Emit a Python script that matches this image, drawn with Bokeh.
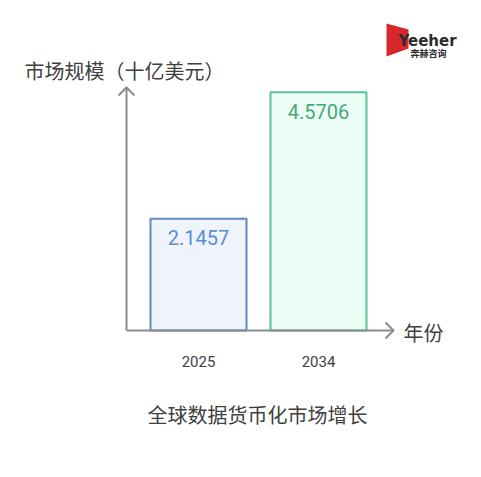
from bokeh.plotting import figure
from bokeh.models import Range1d, Label, ColumnDataSource
from bokeh.core.properties import value
from bokeh.embed import file_html
from bokeh.resources import INLINE

# ---- data ----
years = ["2025", "2034"]
market_size = [2.1457, 4.5706]
value_labels = ["2.1457", "4.5706"]
bar_fill = ["#EEF3FC", "#EAFCF3"]
bar_line = ["#6088C6", "#5CC392"]
label_color = ["#5B8DD6", "#45A97C"]
y_axis_title = "市场规模（十亿美元）"
x_axis_title = "年份"
chart_title = "全球数据货币化市场增长"
logo_text = "Yeeher"
logo_sub = "奔赫咨询"

# ---- layout ----
W, H = 465, 461
X0_PX, X_UNIT = 198, 120    # canvas px of first category centre, px per category step
Y0_PX, Y_UNIT = 131, 52.1   # canvas px (from bottom) of zero, px per billion USD
CJK = "Noto Sans CJK SC"
AXIS_COLOR = "#8C8C8C"
TEXT_COLOR = "#404040"


def dx(px):
    return (px - X0_PX) / X_UNIT


def dy(py):
    return (py - Y0_PX) / Y_UNIT


p = figure(width=W, height=H, output_backend="svg", toolbar_location=None,
           x_axis_type=None, y_axis_type=None, min_border=0,
           x_range=Range1d(dx(0), dx(W)), y_range=Range1d(dy(0), dy(H)))
p.grid.visible = False
p.outline_line_color = None
p.background_fill_color = "white"
p.border_fill_color = "white"

idx = list(range(len(years)))
src = ColumnDataSource(dict(x=idx, top=market_size, label=value_labels,
                            year=years, fill=bar_fill, line=bar_line,
                            tcolor=label_color, base=[0] * len(years)))

# bars
p.vbar(x="x", top="top", bottom=0, width=96 / X_UNIT, source=src,
       fill_color="fill", line_color="line", line_width=2)

# value labels inside bars
p.text(x="x", y="top", text="label", source=src, y_offset=19,
       text_align="center", text_baseline="middle",
       text_font=value("Roboto"), text_font_size="20px", text_color="tcolor")

# category tick labels
p.text(x="x", y="base", text="year", source=src, y_offset=31,
       text_align="center", text_baseline="middle",
       text_font=value("Roboto"), text_font_size="15px", text_color=TEXT_COLOR)

# axes with arrow heads
ax_x = dx(126)
y_tip = dy(374)
x_tip = dx(393)
p.line([ax_x, ax_x], [0, y_tip], line_color=AXIS_COLOR, line_width=2)
p.line([ax_x, x_tip], [0, 0], line_color=AXIS_COLOR, line_width=2)
p.line([dx(118), ax_x, dx(134)], [dy(366), y_tip, dy(366)],
       line_color=AXIS_COLOR, line_width=2, line_join="miter")
p.line([dx(385), x_tip, dx(385)], [dy(139), 0, dy(123)],
       line_color=AXIS_COLOR, line_width=2, line_join="miter")

# axis titles and chart title
p.add_layout(Label(x=24, y=391, x_units="screen", y_units="screen",
                   text=y_axis_title, text_font=CJK, text_font_size="20px",
                   text_color=TEXT_COLOR, text_baseline="middle", text_align="left"))
p.add_layout(Label(x=403, y=129, x_units="screen", y_units="screen",
                   text=x_axis_title, text_font=CJK, text_font_size="20px",
                   text_color=TEXT_COLOR, text_baseline="middle", text_align="left"))
p.add_layout(Label(x=257, y=47, x_units="screen", y_units="screen",
                   text=chart_title, text_font=CJK, text_font_size="20px",
                   text_color=TEXT_COLOR, text_baseline="middle", text_align="center"))

# logo
p.patch([dx(386), dx(408), dx(408), dx(386)], [dy(438), dy(432), dy(413), dy(405)],
        fill_color="#D7262C", line_color=None)
p.add_layout(Label(x=398, y=421, x_units="screen", y_units="screen",
                   text=logo_text, text_font="DejaVu Sans", text_font_style="bold",
                   text_font_size="15px", text_color="#2B2B2B",
                   text_baseline="middle", text_align="left"))
p.add_layout(Label(x=410, y=408, x_units="screen", y_units="screen",
                   text=logo_sub, text_font=CJK, text_font_style="bold",
                   text_font_size="9px", text_color="#2B2B2B",
                   text_baseline="middle", text_align="left"))

open("out.html", "w").write(file_html(p, INLINE))
